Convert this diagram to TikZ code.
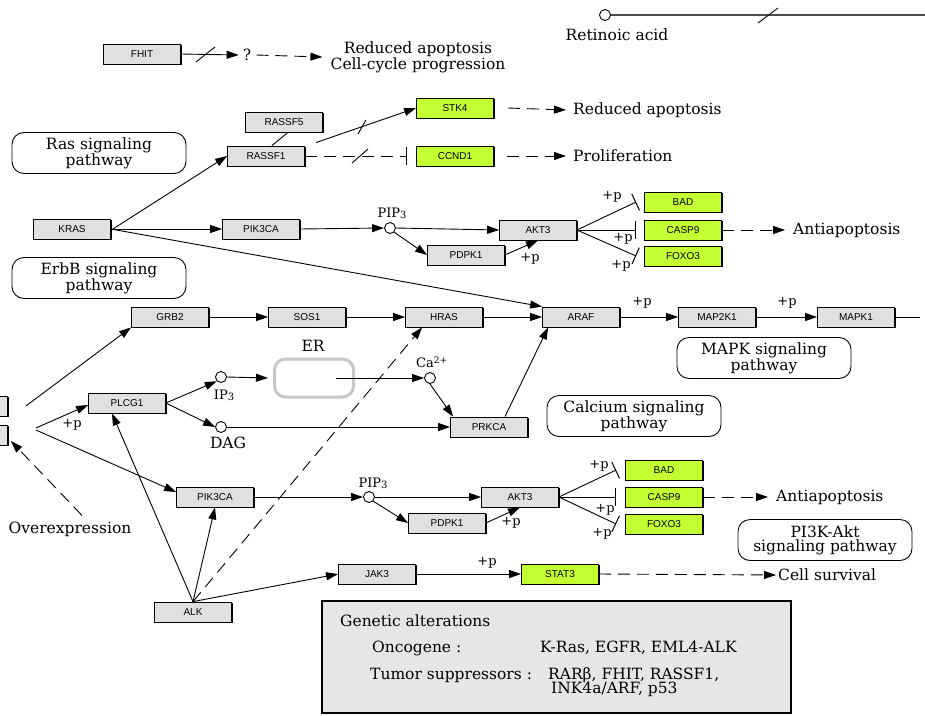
\documentclass[tikz,border=0pt]{standalone}
\usepackage{fontspec}
\setmainfont{DejaVu Serif}
\newfontfamily\boxfont{Liberation Sans}
\usetikzlibrary{arrows.meta,calc,shadows}
\definecolor{boxgray}{RGB}{224,224,224}
\definecolor{kegglime}{RGB}{196,255,51}
\definecolor{infogray}{RGB}{230,230,230}
\begin{document}
\begin{tikzpicture}[x=1pt,y=-1pt,
  gene/.style={draw, line width=0.8pt, fill=boxgray, minimum width=77pt, minimum height=20pt, inner sep=0pt,
    font=\boxfont\fontsize{10}{12}\selectfont,
    drop shadow={shadow xshift=1.3pt, shadow yshift=-1.3pt, fill=black, opacity=1}},
  lgene/.style={gene, fill=kegglime},
  txt/.style={font=\fontsize{15.5}{14}\selectfont, inner sep=0pt, align=center},
  wtxt/.style={txt, anchor=west, align=left},
  plab/.style={font=\fontsize{13}{13}\selectfont, inner sep=0pt},
  cmp/.style={circle, draw, fill=white, minimum size=11pt, inner sep=0pt, line width=0.9pt},
  pwbox/.style={draw, line width=0.9pt, rounded corners=12pt, minimum width=174pt, minimum height=41pt,
    align=center, inner sep=0pt, font=\fontsize{15.5}{14}\selectfont},
  act/.style={-{Triangle[length=12pt,width=8pt]}, line width=0.9pt},
  inh/.style={-{Bar[width=18pt,line width=1pt]}, line width=0.9pt},
  dsh/.style={dash pattern=on 12pt off 7pt},
  lnk/.style={line width=0.9pt},
  slash/.style={line width=0.9pt}
]
\clip (0,0) rectangle (925,715);
\fill[white] (0,0) rectangle (925,715);

% ---------- top row ----------
\node[gene] (fhit) at (142,54) {FHIT};
\node[txt] (qm) at (247,55) {?};
\node[txt] (redcell) at (418,57) {Reduced apoptosis\\Cell-cycle progression};
\draw[act] (fhit.east) -- ([xshift=-4]qm.west);
\draw[slash] (196,62) -- (215,47);
\draw[act,dsh] ([xshift=5]qm.east) -- ([xshift=-8]redcell.west);

\node[cmp] (ret) at (605,15) {};
\coordinate (retend) at (925,15);
\draw[line width=1.1pt, black!70] (ret.east) -- (retend);
\draw[slash] (758,23) -- (778,8);
\node[txt] (rettxt) at (617,35) {Retinoic acid};

% ---------- pathway boxes ----------
\node[pwbox] (raspw) at (99,153) {Ras signaling\\pathway};
\node[pwbox] (erbbpw) at (99,278) {ErbB signaling\\pathway};
\node[pwbox] (mapkpw) at (764,358) {MAPK signaling\\pathway};
\node[pwbox] (capw) at (634,416) {Calcium signaling\\pathway};
\node[pwbox] (pi3kpw) at (825,540) {PI3K-Akt\\signaling pathway};

% ---------- RASSF ----------
\node[gene] (rassf5) at (284,122) {RASSF5};
\node[gene] (rassf1) at (266,156) {RASSF1};
\node[lgene] (stk4) at (455,108) {STK4};
\node[lgene] (ccnd1) at (455,156) {CCND1};
\draw[lnk] ([xshift=4]rassf5.south) -- ([xshift=6]rassf1.north);
\draw[act] ($(rassf1.north east)+(11,-3)$) -- (stk4.west);
\draw[slash] (358,134) -- (366,120);
\draw[inh,dsh] (rassf1.east) -- ([xshift=-9]ccnd1.west);
\draw[slash] (352,163) -- (368,149);
\node[wtxt] (redap) at (573,110) {Reduced apoptosis};
\node[wtxt] (prolif) at (573,156) {Proliferation};
\draw[act,dsh] ([xshift=14]stk4.east) -- ([xshift=-7]redap.west);
\draw[act,dsh] ([xshift=13]ccnd1.east) -- ([xshift=-7]prolif.west);

% ---------- MAPK row ----------
\node[gene] (grb2) at (170,317) {GRB2};
\node[gene] (sos1) at (307,317) {SOS1};
\node[gene] (hras) at (444,317) {HRAS};
\node[gene] (araf) at (581,317) {ARAF};
\node[gene] (map2k1) at (717,317) {MAP2K1};
\node[gene] (mapk1) at (856,317) {MAPK1};
\coordinate (mapkend) at (920,317);
\draw[act] (grb2.east) -- (sos1.west);
\draw[act] (sos1.east) -- (hras.west);
\draw[act] (hras.east) -- (araf.west);
\draw[act] (araf.east) -- (map2k1.west);
\draw[act] (map2k1.east) -- (mapk1.west);
\draw[lnk] (mapk1.east) -- (mapkend);
\node[plab] at (642,303) {+p};
\node[plab] at (787,303) {+p};

% ---------- KRAS branch ----------
\node[gene] (kras) at (72,229) {KRAS};
\node[gene] (pik3caa) at (261,229) {PIK3CA};
\node[cmp] (pip3a) at (390,228) {};
\node[plab] at (392,213) {PIP\raisebox{-1pt}{\fontsize{10}{10}\selectfont 3}};
\node[gene] (akt3a) at (538,230) {AKT3};
\node[gene] (pdpk1a) at (466,255) {PDPK1};
\node[lgene] (bada) at (683,202) {BAD};
\node[lgene] (casp9a) at (683,230) {CASP9};
\node[lgene] (foxo3a) at (683,256) {FOXO3};
\node[wtxt] (antia) at (793,230) {Antiapoptosis};

\draw[act] ([xshift=2]kras.east) -- (rassf1.west);
\draw[act] (kras.east) -- (pik3caa.west);
\draw[act] (kras.east) -- (araf.north west);
\draw[act] (pik3caa.east) -- (pip3a.west);
\draw[act] (pip3a.east) -- (akt3a.west);
\draw[act] (pip3a.south east) -- (pdpk1a.west);
\draw[act] (pdpk1a.east) -- (akt3a.south);
\node[plab] at (530,259) {+p};
\draw[inh] (akt3a.east) -- ([xshift=-8]bada.west);
\draw[inh] (akt3a.east) -- ([xshift=-8]casp9a.west);
\draw[inh] (akt3a.east) -- ([xshift=-8]foxo3a.west);
\node[plab] at (612,197) {+p};
\node[plab] at (623,239) {+p};
\node[plab] at (621,266) {+p};
\draw[act,dsh] (casp9a.east) -- ([xshift=-8]antia.west);

% ---------- EGFR (cut off) ----------
\node[gene] (egfra) at (-31,406) {};
\node[gene] (egfrb) at (-31,435) {};
\draw[act] ([xshift=18]egfra.east) -- (grb2.south west);
\node[gene] (plcg1) at (127,403) {PLCG1};
\node[gene] (pik3cab) at (215,497) {PIK3CA};
\draw[act] ($(egfrb.east)+(28,-7)$) -- ([yshift=-2]plcg1.west);
\node[plab] at (72,425) {+p};
\draw[act] ($(egfrb.east)+(28,-5)$) -- ($(pik3cab.west)+(0,-5)$);
\node[txt] (overexp) at (70,529) {Overexpression};
\draw[act,dsh] ($(overexp.north)+(12,-6)$) -- ($(egfrb.east)+(3,6)$);

% ---------- Calcium ----------
\node[cmp] (ip3) at (221,377) {};
\node[cmp] (dag) at (221,427) {};
\node[plab] at (224,395) {IP\raisebox{-1pt}{\fontsize{10}{10}\selectfont 3}};
\node[txt] at (228,443) {DAG};
\node[draw=black!22, line width=3pt, rounded corners=11pt, minimum width=79pt, minimum height=38pt] (er) at (314,378) {};
\node[txt] at (313,346) {ER};
\node[cmp] (ca) at (430,378) {};
\node[plab] at (432,362) {Ca\textsuperscript{2+}};
\node[gene] (prkca) at (489,427) {PRKCA};
\draw[act] (plcg1.east) -- (ip3.south west);
\draw[act] (plcg1.east) -- (dag.west);
\draw[act] (ip3.east) -- ([xshift=-5]er.west);
\draw[act] ([xshift=-19]er.east) -- (ca.west);
\draw[act] (ca.south) -- ($(prkca.north west)+(3,0)$);
\draw[act] (dag.east) -- (prkca.west);
\draw[act] ($(prkca.north)+(16,0)$) -- ($(araf.south west)+(6,0)$);

% ---------- lower PI3K ----------
\node[cmp] (pip3b) at (369,497) {};
\node[plab] at (373,483) {PIP\raisebox{-1pt}{\fontsize{10}{10}\selectfont 3}};
\node[gene] (akt3b) at (520,497) {AKT3};
\node[gene] (pdpk1b) at (447,523) {PDPK1};
\node[lgene] (badb) at (664,470) {BAD};
\node[lgene] (casp9b) at (664,497) {CASP9};
\node[lgene] (foxo3b) at (664,524) {FOXO3};
\node[wtxt] (antib) at (776,497) {Antiapoptosis};
\draw[act] (pik3cab.east) -- (pip3b.west);
\draw[act] (pip3b.east) -- (akt3b.west);
\draw[act] (pip3b.south east) -- (pdpk1b.west);
\draw[act] (pdpk1b.east) -- (akt3b.south);
\node[plab] at (511,523) {+p};
\draw[inh] (akt3b.east) -- ([xshift=-9]badb.west);
\draw[inh] (akt3b.east) -- ([xshift=-9]casp9b.west);
\draw[inh] (akt3b.east) -- ([xshift=-9]foxo3b.west);
\node[plab] at (599,466) {+p};
\node[plab] at (605,510) {+p};
\node[plab] at (602,534) {+p};
\draw[act,dsh] (casp9b.east) -- ([xshift=-8]antib.west);

% ---------- ALK / JAK-STAT ----------
\node[gene] (alk) at (193,612) {ALK};
\node[gene] (jak3) at (377,574) {JAK3};
\node[lgene] (stat3) at (560,574) {STAT3};
\node[wtxt] (cellsurv) at (778,575) {Cell survival};
\draw[act] (alk.north) -- ($(plcg1.south)+(-15,0)$);
\draw[act] (alk.north) -- (pik3cab.south);
\draw[act,dsh] (alk.north) -- ($(hras.south west)+(17,0)$);
\draw[act] (alk.north) -- (jak3.west);
\draw[act] (jak3.east) -- (stat3.west);
\node[plab] at (487,563) {+p};
\draw[act,dsh] (stat3.east) -- ([xshift=-2]cellsurv.west);

% ---------- Genetic alterations ----------
\node[draw, line width=2.2pt, fill=infogray, minimum width=469pt, minimum height=112pt, inner sep=0pt] (gen) at (556.5,657) {};
\node[wtxt] at (340,621) {Genetic alterations};
\node[wtxt] at (372,648) {Oncogene :};
\node[wtxt] at (540,648) {K-Ras, EGFR, EML4-ALK};
\node[wtxt] at (370,675) {Tumor suppressors :};
\node[wtxt] at (548,675) {RARβ, FHIT, RASSF1,};
\node[wtxt] at (551,689) {INK4a/ARF, p53};
\end{tikzpicture}
\end{document}
